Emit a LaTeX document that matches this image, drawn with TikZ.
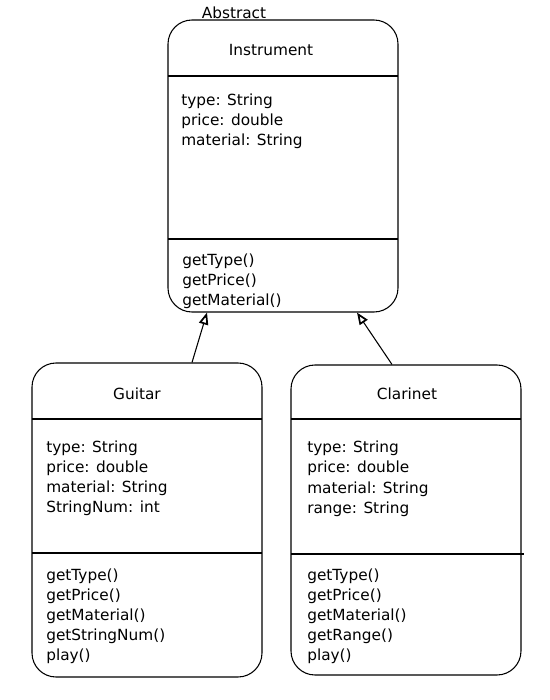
\documentclass[tikz,border=0pt]{standalone}
\usepackage{fontspec}
\setmainfont{DejaVu Sans}
\usetikzlibrary{arrows.meta}
\begin{document}
\begin{tikzpicture}[x=0.75pt,y=-0.75pt,
  umlbox/.style={draw, line width=0.8pt, rounded corners=18pt, inner sep=0pt, minimum width=172.5pt},
  divider/.style={line width=0.8pt},
  classtitle/.style={inner sep=0pt, anchor=base, font=\fontsize{11.5}{14}\selectfont},
  member/.style={inner sep=0pt, anchor=base west, font=\fontsize{11.5}{14}\selectfont},
  inherit/.style={line width=0.8pt, -{Triangle[open, length=9pt, width=7pt, line width=1.3pt]}}]
\useasboundingbox (0,0) rectangle (550,700);

% Instrument
\node[umlbox, minimum height=219pt] (inst) at (283,166) {};
\draw[divider] (168,76) -- (398,76);
\draw[divider] (168,239) -- (398,239);
\node[classtitle] (abstract) at (234,18) {Abstract};
\node[classtitle] (instname) at (271,55) {Instrument};
\foreach \t [count=\i] in {type: String, price: double, material: String}
  \node[member] (ia\i) at (181,{105+20*(\i-1)}) {\t};
\foreach \t [count=\i] in {getType(), getPrice(), getMaterial()}
  \node[member] (im\i) at (182,{265+20*(\i-1)}) {\t};

% Guitar
\node[umlbox, minimum height=235.5pt] (guitar) at (147,520) {};
\draw[divider] (32,419) -- (262,419);
\draw[divider] (32,553) -- (262,553);
\node[classtitle] (guitarname) at (137,399) {Guitar};
\foreach \t [count=\i] in {type: String, price: double, material: String, StringNum: int}
  \node[member] (ga\i) at (46,{452+20.3*(\i-1)}) {\t};
\foreach \t [count=\i] in {getType(), getPrice(), getMaterial(), getStringNum(), play()}
  \node[member] (gm\i) at (46,{580+20*(\i-1)}) {\t};

% Clarinet
\node[umlbox, minimum height=232.5pt] (clar) at (406,520) {};
\draw[divider] (291,419) -- (521,419);
\draw[divider] (291,554) -- (524,554);
\node[classtitle] (clarname) at (407,399) {Clarinet};
\foreach \t [count=\i] in {type: String, price: double, material: String, range: String}
  \node[member] (ca\i) at (307,{452+20.5*(\i-1)}) {\t};
\foreach \t [count=\i] in {getType(), getPrice(), getMaterial(), getRange(), play()}
  \node[member] (cm\i) at (307,{580+20*(\i-1)}) {\t};

% Inheritance arrows
\draw[inherit] ([xshift=33.75pt]guitar.north) -- ([xshift=-57pt]inst.south);
\draw[inherit] ([xshift=-10.5pt]clar.north) -- ([xshift=55.5pt]inst.south);
\end{tikzpicture}
\end{document}
